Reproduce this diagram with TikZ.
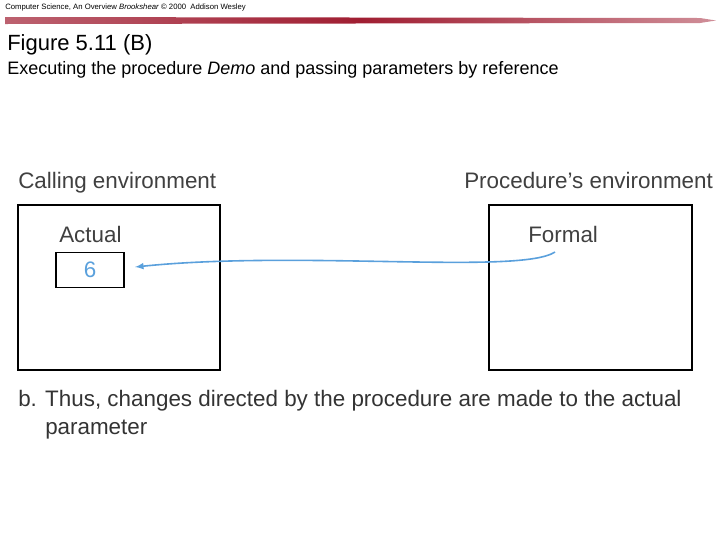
\documentclass[tikz,border=0pt]{standalone}
\usepackage{fontspec}
\setmainfont{Liberation Sans}
\definecolor{barred}{RGB}{160,30,50}
\definecolor{valblue}{RGB}{90,160,220}
\begin{document}
\begin{tikzpicture}[x=0.75pt, y=-0.75pt,
  envbox/.style={draw, line width=1.2pt},
  title/.style={anchor=west, inner sep=0pt, font=\fontsize{16.5}{19}\selectfont},
  label/.style={anchor=base west, inner sep=0pt, font=\fontsize{16.8}{20}\selectfont, text=black!75}]

\useasboundingbox (0,0) rectangle (720,540);

% header
\node [anchor=west, inner sep=0pt, font=\fontsize{5.8}{6}\selectfont] (hdr) at (5,7)
  {Computer Science, An Overview \textit{Brookshear} \copyright{} 2000\ \ Addison Wesley};
\shade [left color=barred!70, right color=barred!50, middle color=barred]
  (5,17) -- (700,18) -- (716,20.5) -- (700,23) -- (5,24) -- cycle;

\node [title] (fig) at (7,45) {Figure 5.11 (B)};
\node [anchor=west, inner sep=0pt, font=\fontsize{13.5}{16}\selectfont] (sub) at (7,70)
  {Executing the procedure \textit{Demo} and passing parameters by reference};

% environments
\node [label] (calling) at (18,188) {Calling environment};
\draw [envbox] (18,205) rectangle (220,370);
\node [label] (actual) at (59,242) {Actual};
\node [draw, line width=1.2pt, minimum width=51pt, minimum height=26pt,
  font=\fontsize{16.8}{20}\selectfont, text=valblue] (val) at (90,270) {6};

\node [label] (procenv) at (464,188) {Procedure's environment};
\draw [envbox] (489,205) rectangle (692,370);
\node [label] (formal) at (528,242) {Formal};

\coordinate (src) at (555,252);
\coordinate (tip) at (135,267);
\draw [valblue, line width=1.2pt, -latex]
  (src) .. controls (520,275) and (300,250) .. (tip);
\node [label, text=black!80] (capt) at (18,406)
  {b. Thus, changes directed by the procedure are made to the actual};
\node [label, text=black!80] (capt2) at (45,434) {parameter};
\end{tikzpicture}
\end{document}
